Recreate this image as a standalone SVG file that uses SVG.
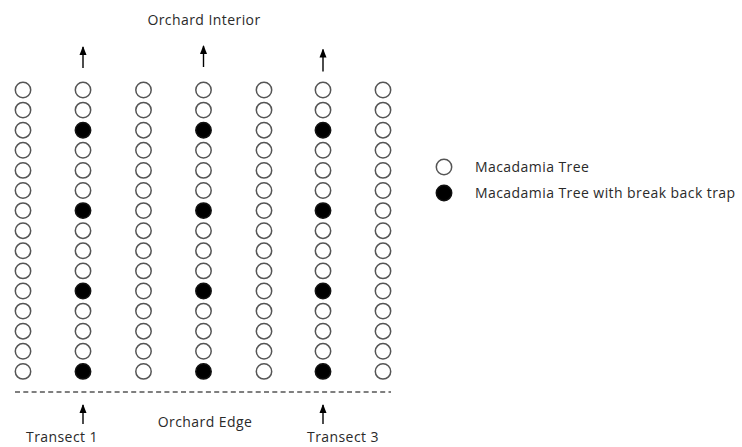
<svg xmlns="http://www.w3.org/2000/svg" width="742" height="447" viewBox="0 0 742 447">
<style>
.t{fill:#fff;stroke:#555;stroke-width:1.5}
.b{fill:#000;stroke:#111;stroke-width:1.5}
.lbl{font-family:"Open Sans","Noto Sans",sans-serif;font-size:14px;letter-spacing:0.43px;fill:#2a2a2a}
.ar{stroke:#000;stroke-width:1.4;fill:none}
</style>
<defs>
<marker id="ah" markerUnits="userSpaceOnUse" markerWidth="9" markerHeight="8" viewBox="0 0 9 8" refX="8" refY="4" orient="auto">
<path d="M0,0.5 L9,4 L0,7.5 Z" fill="#000"/>
</marker>
<circle id="tw" r="7.7" class="t"/>
<circle id="tb" r="7.7" class="b"/>
</defs>
<rect width="742" height="447" fill="#fff"/>
<text class="lbl" x="204" y="25" text-anchor="middle">Orchard Interior</text>
<g id="connectors">
<line class="ar" x1="83" y1="68" x2="83" y2="47" marker-end="url(#ah)"/>
<line class="ar" x1="203.5" y1="67" x2="203.5" y2="46" marker-end="url(#ah)"/>
<line class="ar" x1="323" y1="71.5" x2="323" y2="49.5" marker-end="url(#ah)"/>
<line class="ar" x1="83" y1="424" x2="83" y2="405" marker-end="url(#ah)"/>
<line class="ar" x1="323" y1="424" x2="323" y2="405" marker-end="url(#ah)"/>
<line x1="15" y1="392" x2="391" y2="392" stroke="#000" stroke-width="1.2" stroke-dasharray="5,3.3"/>
</g>
<g id="col1">
<use href="#tw" x="23" y="90"/><use href="#tw" x="23" y="110.1"/><use href="#tw" x="23" y="130.2"/><use href="#tw" x="23" y="150.3"/><use href="#tw" x="23" y="170.4"/><use href="#tw" x="23" y="190.5"/><use href="#tw" x="23" y="210.6"/><use href="#tw" x="23" y="230.7"/><use href="#tw" x="23" y="250.8"/><use href="#tw" x="23" y="270.9"/><use href="#tw" x="23" y="291"/><use href="#tw" x="23" y="311.1"/><use href="#tw" x="23" y="331.2"/><use href="#tw" x="23" y="351.3"/><use href="#tw" x="23" y="371.4"/>
</g>
<g id="col2">
<use href="#tw" x="83" y="90"/><use href="#tw" x="83" y="110.1"/><use href="#tb" x="83" y="130.2"/><use href="#tw" x="83" y="150.3"/><use href="#tw" x="83" y="170.4"/><use href="#tw" x="83" y="190.5"/><use href="#tb" x="83" y="210.6"/><use href="#tw" x="83" y="230.7"/><use href="#tw" x="83" y="250.8"/><use href="#tw" x="83" y="270.9"/><use href="#tb" x="83" y="291"/><use href="#tw" x="83" y="311.1"/><use href="#tw" x="83" y="331.2"/><use href="#tw" x="83" y="351.3"/><use href="#tb" x="83" y="371.4"/>
</g>
<g id="col3">
<use href="#tw" x="143.5" y="90"/><use href="#tw" x="143.5" y="110.1"/><use href="#tw" x="143.5" y="130.2"/><use href="#tw" x="143.5" y="150.3"/><use href="#tw" x="143.5" y="170.4"/><use href="#tw" x="143.5" y="190.5"/><use href="#tw" x="143.5" y="210.6"/><use href="#tw" x="143.5" y="230.7"/><use href="#tw" x="143.5" y="250.8"/><use href="#tw" x="143.5" y="270.9"/><use href="#tw" x="143.5" y="291"/><use href="#tw" x="143.5" y="311.1"/><use href="#tw" x="143.5" y="331.2"/><use href="#tw" x="143.5" y="351.3"/><use href="#tw" x="143.5" y="371.4"/>
</g>
<g id="col4">
<use href="#tw" x="203.5" y="90"/><use href="#tw" x="203.5" y="110.1"/><use href="#tb" x="203.5" y="130.2"/><use href="#tw" x="203.5" y="150.3"/><use href="#tw" x="203.5" y="170.4"/><use href="#tw" x="203.5" y="190.5"/><use href="#tb" x="203.5" y="210.6"/><use href="#tw" x="203.5" y="230.7"/><use href="#tw" x="203.5" y="250.8"/><use href="#tw" x="203.5" y="270.9"/><use href="#tb" x="203.5" y="291"/><use href="#tw" x="203.5" y="311.1"/><use href="#tw" x="203.5" y="331.2"/><use href="#tw" x="203.5" y="351.3"/><use href="#tb" x="203.5" y="371.4"/>
</g>
<g id="col5">
<use href="#tw" x="264" y="90"/><use href="#tw" x="264" y="110.1"/><use href="#tw" x="264" y="130.2"/><use href="#tw" x="264" y="150.3"/><use href="#tw" x="264" y="170.4"/><use href="#tw" x="264" y="190.5"/><use href="#tw" x="264" y="210.6"/><use href="#tw" x="264" y="230.7"/><use href="#tw" x="264" y="250.8"/><use href="#tw" x="264" y="270.9"/><use href="#tw" x="264" y="291"/><use href="#tw" x="264" y="311.1"/><use href="#tw" x="264" y="331.2"/><use href="#tw" x="264" y="351.3"/><use href="#tw" x="264" y="371.4"/>
</g>
<g id="col6">
<use href="#tw" x="323" y="90"/><use href="#tw" x="323" y="110.1"/><use href="#tb" x="323" y="130.2"/><use href="#tw" x="323" y="150.3"/><use href="#tw" x="323" y="170.4"/><use href="#tw" x="323" y="190.5"/><use href="#tb" x="323" y="210.6"/><use href="#tw" x="323" y="230.7"/><use href="#tw" x="323" y="250.8"/><use href="#tw" x="323" y="270.9"/><use href="#tb" x="323" y="291"/><use href="#tw" x="323" y="311.1"/><use href="#tw" x="323" y="331.2"/><use href="#tw" x="323" y="351.3"/><use href="#tb" x="323" y="371.4"/>
</g>
<g id="col7">
<use href="#tw" x="383" y="90"/><use href="#tw" x="383" y="110.1"/><use href="#tw" x="383" y="130.2"/><use href="#tw" x="383" y="150.3"/><use href="#tw" x="383" y="170.4"/><use href="#tw" x="383" y="190.5"/><use href="#tw" x="383" y="210.6"/><use href="#tw" x="383" y="230.7"/><use href="#tw" x="383" y="250.8"/><use href="#tw" x="383" y="270.9"/><use href="#tw" x="383" y="291"/><use href="#tw" x="383" y="311.1"/><use href="#tw" x="383" y="331.2"/><use href="#tw" x="383" y="351.3"/><use href="#tw" x="383" y="371.4"/>
</g>
<text class="lbl" x="205" y="427" text-anchor="middle">Orchard Edge</text>
<text class="lbl" x="62" y="442" text-anchor="middle">Transect 1</text>
<text class="lbl" x="343" y="442" text-anchor="middle">Transect 3</text>
<g id="legend-tree">
<use href="#tw" x="444" y="167"/>
<text class="lbl" x="475" y="172">Macadamia Tree</text>
</g>
<g id="legend-trap">
<use href="#tb" x="444" y="193"/>
<text class="lbl" x="475" y="198">Macadamia Tree with break back trap</text>
</g>
</svg>
